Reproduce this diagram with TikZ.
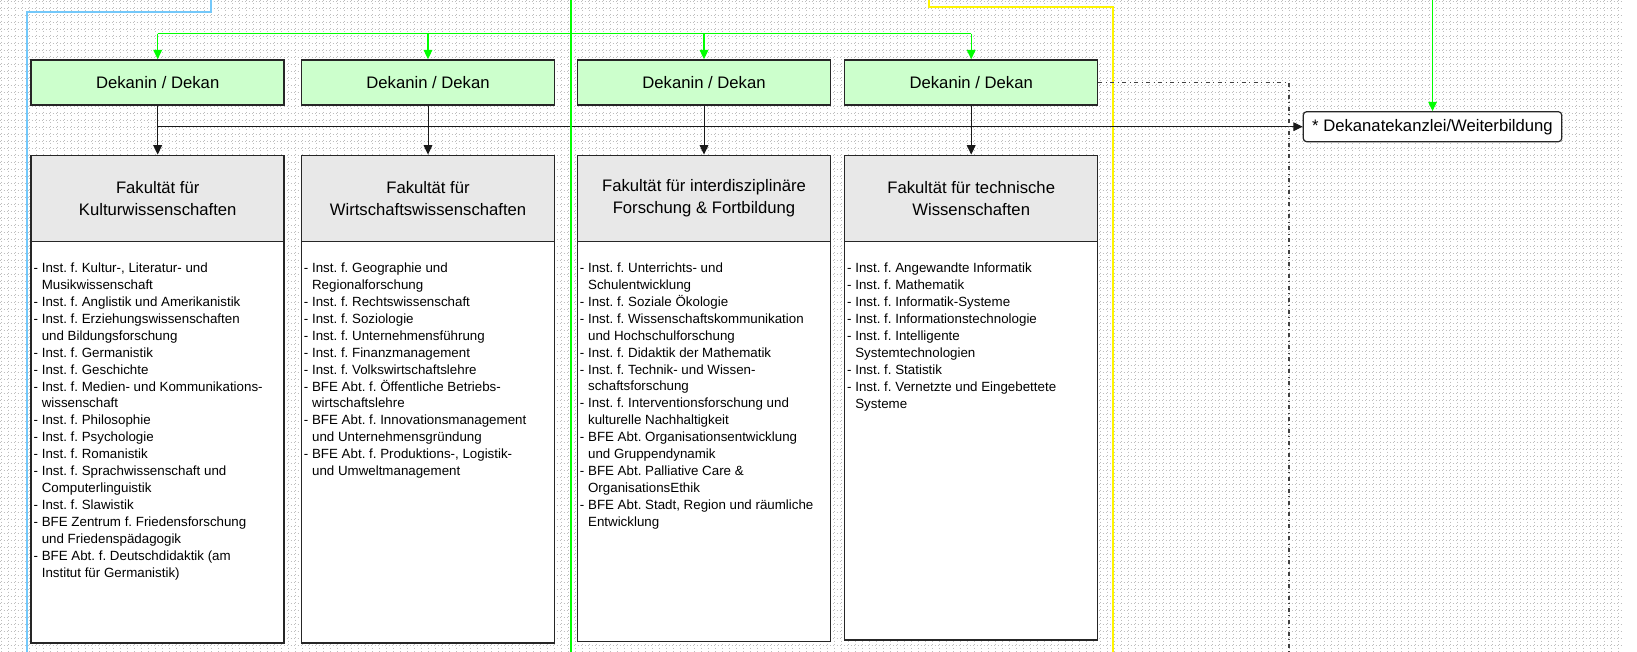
\documentclass[tikz,border=0pt]{standalone}
\usepackage{fontspec}
\setmainfont{Liberation Sans}
\usetikzlibrary{arrows.meta,positioning}

\definecolor{dekangruen}{RGB}{204,255,204}
\definecolor{kopfgrau}{RGB}{232,232,232}
\definecolor{linienblau}{RGB}{115,200,250}
\definecolor{hellgruen}{RGB}{0,255,0}
\definecolor{gelb}{RGB}{255,245,0}
\definecolor{raster}{RGB}{190,190,190}

\newcommand{\einzug}{\hphantom{-\ }}
\frenchspacing

\tikzset{
  raster/.style={draw=raster, line width=0.5pt, dash pattern=on 0.5pt off 2.125pt},
  dekan/.style={draw=black!85, line width=1.1pt, fill=dekangruen, minimum width=189.75pt,
    minimum height=33.75pt, inner sep=0pt, font=\fontsize{12.5}{15}\selectfont},
  fakultaet/.style={draw=black!85, line width=1.1pt, fill=kopfgrau, minimum width=189.75pt,
    minimum height=64.5pt, inner sep=0pt, align=center, font=\fontsize{12.5}{16.3}\selectfont},
  institut/.style={draw=black!85, line width=1.1pt, fill=white, minimum width=189.75pt, inner sep=0pt},
  liste/.style={align=left, inner sep=0pt, node distance=16.5pt and 2.2pt,
    font=\fontsize{10}{12.7}\selectfont\frenchspacing},
  kanzlei/.style={draw=black!85, line width=0.9pt, fill=white, rounded corners=2.5pt,
    minimum width=193.8pt, minimum height=22.5pt, inner sep=0pt, font=\fontsize{12.5}{15}\selectfont},
  pfeil/.style={-{Triangle[length=7pt,width=6.5pt]}, line width=0.75pt, draw=black!90},
  gruenpfeil/.style={-{Triangle[length=7pt,width=6.5pt]}, line width=0.8pt, draw=hellgruen},
  gruenlinie/.style={line width=0.8pt, draw=hellgruen},
  gruenbus/.style={line width=2.2pt, draw=hellgruen},
  blaulinie/.style={line width=1.2pt, draw=linienblau},
  gelblinie/.style={line width=1.3pt, draw=gelb},
  strichpunkt/.style={line width=1pt, draw=black!75, dash pattern=on 3pt off 2.6pt on 0.75pt off 2.6pt},
}

\begin{document}
\begin{tikzpicture}[x=0.75pt,y=-0.75pt]
  \useasboundingbox (0,0) rectangle (1637,652);
  \fill[white] (0,0) rectangle (1637,652);

  % Raster im Hintergrund
  \foreach \gx in {1,8,...,1623} \draw[raster] (\gx,0) -- (\gx,652);
  \foreach \gy in {1,8,...,652} \draw[raster] (0,\gy) -- (1623,\gy);

  % Leitungen, die oben aus dem Bild laufen
  \draw[blaulinie] (211,0) -- (211,12.3) -- (26.7,12.3) -- (26.7,652);
  \draw[gelblinie] (929.3,0) -- (929.3,6.7) -- (1112.7,6.7) -- (1112.7,652);

  % Dekanate
  \node[dekan] (dekan1) at (157.7,82.5) {Dekanin / Dekan};
  \node[dekan] (dekan2) at (428,82.5) {Dekanin / Dekan};
  \node[dekan] (dekan3) at (704,82.5) {Dekanin / Dekan};
  \node[dekan] (dekan4) at (971.2,82.5) {Dekanin / Dekan};

  \node[kanzlei] (kanzlei) at (1432.5,126.7) {* Dekanatekanzlei/Weiterbildung};

  % Fakultaeten
  \node[fakultaet] (fak1) at (157.7,198.3) {Fakultät für\\Kulturwissenschaften};
  \node[fakultaet] (fak2) at (428,198.3) {Fakultät für\\Wirtschaftswissenschaften};
  \node[fakultaet] (fak3) at (704,198.3) {Fakultät für interdisziplinäre\\Forschung \& Fortbildung};
  \node[fakultaet] (fak4) at (971.2,198.3) {Fakultät für technische\\Wissenschaften};

  \node[institut, minimum height=301.3pt] (inst1) at (157.7,442.2) {};
  \node[institut, minimum height=301.3pt] (inst2) at (428,442.2) {};
  \node[institut, minimum height=300.2pt] (inst3) at (704,441.4) {};
  \node[institut, minimum height=299pt] (inst4) at (971.2,440.7) {};

  \node[liste, below right=of inst1.north west] (liste1) {%
    - Inst. f. Kultur-, Literatur- und\\
    \einzug Musikwissenschaft\\
    - Inst. f. Anglistik und Amerikanistik\\
    - Inst. f. Erziehungswissenschaften\\
    \einzug und Bildungsforschung\\
    - Inst. f. Germanistik\\
    - Inst. f. Geschichte\\
    - Inst. f. Medien- und Kommunikations-\\
    \einzug wissenschaft\\
    - Inst. f. Philosophie\\
    - Inst. f. Psychologie\\
    - Inst. f. Romanistik\\
    - Inst. f. Sprachwissenschaft und\\
    \einzug Computerlinguistik\\
    - Inst. f. Slawistik\\
    - BFE Zentrum f. Friedensforschung\\
    \einzug und Friedenspädagogik\\
    - BFE Abt. f. Deutschdidaktik (am\\
    \einzug Institut für Germanistik)};
  \node[liste, below right=of inst2.north west] (liste2) {%
    - Inst. f. Geographie und\\
    \einzug Regionalforschung\\
    - Inst. f. Rechtswissenschaft\\
    - Inst. f. Soziologie\\
    - Inst. f. Unternehmensführung\\
    - Inst. f. Finanzmanagement\\
    - Inst. f. Volkswirtschaftslehre\\
    - BFE Abt. f. Öffentliche Betriebs-\\
    \einzug wirtschaftslehre\\
    - BFE Abt. f. Innovationsmanagement\\
    \einzug und Unternehmensgründung\\
    - BFE Abt. f. Produktions-, Logistik-\\
    \einzug und Umweltmanagement};
  \node[liste, below right=of inst3.north west] (liste3) {%
    - Inst. f. Unterrichts- und\\
    \einzug Schulentwicklung\\
    - Inst. f. Soziale Ökologie\\
    - Inst. f. Wissenschaftskommunikation\\
    \einzug und Hochschulforschung\\
    - Inst. f. Didaktik der Mathematik\\
    - Inst. f. Technik- und Wissen-\\
    \einzug schaftsforschung\\
    - Inst. f. Interventionsforschung und\\
    \einzug kulturelle Nachhaltigkeit\\
    - BFE Abt. Organisationsentwicklung\\
    \einzug und Gruppendynamik\\
    - BFE Abt. Palliative Care \&\\
    \einzug OrganisationsEthik\\
    - BFE Abt. Stadt, Region und räumliche\\
    \einzug Entwicklung};
  \node[liste, below right=of inst4.north west] (liste4) {%
    - Inst. f. Angewandte Informatik\\
    - Inst. f. Mathematik\\
    - Inst. f. Informatik-Systeme\\
    - Inst. f. Informationstechnologie\\
    - Inst. f. Intelligente\\
    \einzug Systemtechnologien\\
    - Inst. f. Statistik\\
    - Inst. f. Vernetzte und Eingebettete\\
    \einzug Systeme};

  % schwarze Verbindungen
  \draw[pfeil] (dekan1) -- (fak1);
  \draw[pfeil] (dekan2) -- (fak2);
  \draw[pfeil] (dekan3) -- (fak3);
  \draw[pfeil] (dekan4) -- (fak4);
  \coordinate (bus) at (dekan1.south |- kanzlei.west);
  \draw[pfeil] (bus) -- (kanzlei);

  % strichpunktierte Linie
  \coordinate (ecke) at (1289,82.5);
  \coordinate (eckeunten) at (1289,652);
  \draw[strichpunkt] (dekan4) -- (ecke) -- (eckeunten);

  % gruene Leitungen
  \coordinate (gruenlinks) at (157.7,33.7);
  \coordinate (gruenrechts) at (971.2,33.7);
  \draw[gruenlinie] (gruenlinks) -- (gruenrechts);
  \draw[gruenpfeil] (gruenlinks) -- (dekan1);
  \draw[gruenpfeil] (gruenlinks -| dekan2) -- (dekan2);
  \draw[gruenpfeil] (gruenlinks -| dekan3) -- (dekan3);
  \draw[gruenpfeil] (gruenrechts) -- (dekan4);
  \coordinate (gruenoben) at (1432.5,0);
  \draw[gruenpfeil] (gruenoben) -- (kanzlei);
  \draw[gruenbus] (571,0) -- (571,652);
\end{tikzpicture}
\end{document}
